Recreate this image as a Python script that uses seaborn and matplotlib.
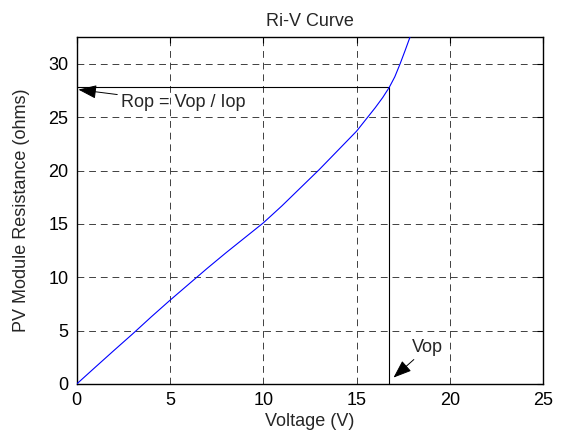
import matplotlib
matplotlib.use("Agg")
import matplotlib.pyplot as plt
import seaborn as sns
import pandas as pd

# Ri-V curve (voltage in V, resistance in ohms)
voltage = [0, 1, 2, 3, 4, 5, 6, 7, 8, 9, 10, 11, 12, 13, 14, 15, 15.5,
           16, 16.4, 16.75, 17.05, 17.33, 17.6, 17.86, 18.1]
resistance = [0, 1.58, 3.15, 4.7, 6.3, 7.85, 9.35, 10.85, 12.3, 13.7, 15.1,
              16.7, 18.4, 20.1, 21.9, 23.7, 24.8, 25.9, 26.85, 27.8, 28.8,
              30.0, 31.25, 32.5, 33.8]

# operating point
v_op = 16.75
r_op = 27.8

x_ticks = [0, 5, 10, 15, 20, 25]
y_ticks = [0, 5, 10, 15, 20, 25, 30]

sns.set_style("white")
plt.rcParams["font.family"] = ["Liberation Sans", "DejaVu Sans"]
fs = 13

df = pd.DataFrame({"Voltage": voltage, "Resistance": resistance})

fig = plt.figure(figsize=(5.64, 4.37), dpi=100)
ax = fig.add_axes([0.136, 0.1213, 0.827, 0.7933])

sns.lineplot(data=df, x="Voltage", y="Resistance", ax=ax, color="#0000ff",
             linewidth=0.8, sort=False, zorder=3)

ax.set_xlim(0, 25)
ax.set_ylim(0, 32.5)
ax.set_xticks(x_ticks)
ax.set_yticks(y_ticks)
ax.tick_params(direction="in", length=4, width=0.8, top=True, right=True,
               labelsize=fs, pad=6, colors="black")
ax.grid(True, color="0.25", linestyle=(0, (7, 5)), linewidth=0.7)
for s in ax.spines.values():
    s.set_visible(True)
    s.set_color("black")
    s.set_linewidth(1.0)

# operating point guide lines
ax.plot([0, v_op], [r_op, r_op], color="black", linewidth=0.8, zorder=2)
ax.plot([v_op, v_op], [0, r_op], color="black", linewidth=0.8, zorder=2)

arrow = dict(arrowstyle="-|>,head_length=0.8,head_width=0.3",
             mutation_scale=14, color="black", linewidth=0.7,
             shrinkA=0, shrinkB=0)
ax.annotate("Rop = Vop / Iop", xy=(0.09, 27.6), xytext=(2.35, 26.35),
            ha="left", va="center", fontsize=fs, arrowprops=arrow)
ax.annotate("Vop", xy=(16.98, 0.6), xytext=(17.95, 2.6),
            ha="left", va="bottom", fontsize=fs, arrowprops=arrow)

ax.set_title("Ri-V Curve", fontsize=fs, pad=8)
ax.set_xlabel("Voltage (V)", fontsize=fs)
ax.set_ylabel("PV Module Resistance (ohms)", fontsize=fs)
ax.xaxis.set_label_coords(0.5, -0.084)
ax.yaxis.set_label_coords(-0.1, 0.5)

fig.savefig("out.png", dpi=100)
